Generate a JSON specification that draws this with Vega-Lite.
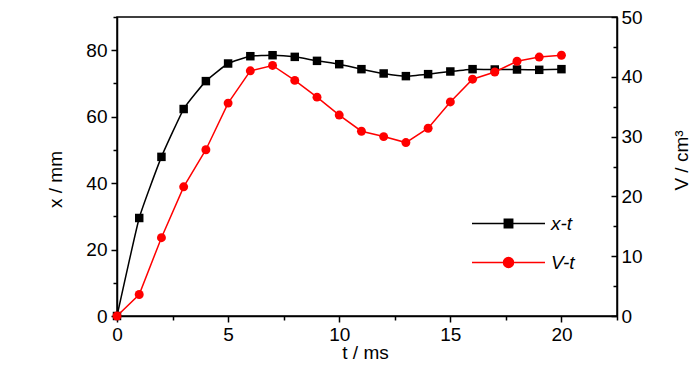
{
  "$schema": "https://vega.github.io/schema/vega-lite/v6.json",
  "width": 500,
  "height": 299,
  "autosize": {"type": "none"},
  "padding": {"left": 117, "top": 17, "right": 83, "bottom": 58},
  "background": "white",
  "config": {
    "view": {"stroke": "black", "strokeWidth": 1.5},
    "font": "Liberation Sans",
    "axis": {
      "grid": false,
      "domainColor": "black",
      "domainWidth": 1.5,
      "tickColor": "black",
      "tickWidth": 1.5,
      "labelFont": "Liberation Sans",
      "labelFontSize": 19,
      "labelColor": "black",
      "titleFont": "Liberation Sans",
      "titleFontSize": 19,
      "titleFontWeight": "normal",
      "titleColor": "black"
    }
  },
  "data": {
    "values": [
      {"t": 0, "x": 0, "V": 0},
      {"t": 1, "x": 29.5, "V": 3.6},
      {"t": 2, "x": 47.9, "V": 13.1},
      {"t": 3, "x": 62.3, "V": 21.6},
      {"t": 4, "x": 70.7, "V": 27.8},
      {"t": 5, "x": 76.0, "V": 35.6},
      {"t": 6, "x": 78.2, "V": 41.0},
      {"t": 7, "x": 78.5, "V": 41.9},
      {"t": 8, "x": 78.0, "V": 39.4},
      {"t": 9, "x": 76.8, "V": 36.6},
      {"t": 10, "x": 75.8, "V": 33.6},
      {"t": 11, "x": 74.3, "V": 30.9},
      {"t": 12, "x": 73.0, "V": 30.0},
      {"t": 13, "x": 72.2, "V": 29.0},
      {"t": 14, "x": 72.8, "V": 31.4},
      {"t": 15, "x": 73.6, "V": 35.8},
      {"t": 16, "x": 74.3, "V": 39.6},
      {"t": 17, "x": 74.2, "V": 40.8},
      {"t": 18, "x": 74.2, "V": 42.6},
      {"t": 19, "x": 74.1, "V": 43.3},
      {"t": 20, "x": 74.3, "V": 43.6}
    ]
  },
  "encoding": {
    "x": {
      "field": "t",
      "type": "quantitative",
      "scale": {"domain": [0, 22.5], "nice": false, "zero": false},
      "axis": {
        "title": "t / ms",
        "values": [0, 2.5, 5, 7.5, 10, 12.5, 15, 17.5, 20, 22.5],
        "labelExpr": "datum.value % 5 === 0 ? datum.label : ''",
        "tickSize": {"condition": {"test": "datum.value % 5 === 0", "value": 6}, "value": 4},
        "labelPadding": 3,
        "labelFlush": false,
        "titleX": 248,
        "titleY": 42,
        "titleAlign": "center",
        "titleBaseline": "alphabetic"
      }
    }
  },
  "layer": [
    {
      "encoding": {
        "y": {
          "field": "x",
          "type": "quantitative",
          "scale": {"domain": [0, 90], "nice": false},
          "axis": {
            "title": "x / mm",
            "orient": "left",
            "values": [0, 10, 20, 30, 40, 50, 60, 70, 80, 90],
            "labelExpr": "datum.value % 20 === 0 ? datum.label : ''",
            "tickSize": {"condition": {"test": "datum.value % 20 === 0", "value": 6}, "value": 4},
            "labelPadding": 4,
            "labelFlush": false,
            "titleAngle": -90,
            "titleX": -56,
            "titleY": 162,
            "titleAlign": "center",
            "titleBaseline": "alphabetic"
          }
        }
      },
      "layer": [
        {
          "mark": {"type": "line", "interpolate": "cardinal", "tension": 0.6, "strokeWidth": 1.5},
          "encoding": {
            "stroke": {
              "datum": "x-t",
              "type": "nominal",
              "scale": {"domain": ["x-t"], "range": ["black"]},
              "legend": {
                "title": null,
                "orient": "none",
                "legendX": 354,
                "legendY": 169,
                "padding": 0,
                "symbolOffset": 0,
                "symbolType": "M-1,0H1M-0.115,-0.115H0.115V0.115H-0.115Z",
                "symbolSize": 5329,
                "symbolStrokeWidth": 1.5,
                "symbolFillColor": "black",
                "symbolStrokeColor": "black",
                "labelFont": "Liberation Sans",
                "labelFontSize": 19,
                "labelFontStyle": "italic",
                "labelColor": "black",
                "labelOffset": 5,
                "encode": {"symbols": {"update": {"fill": {"value": "black"}, "stroke": {"value": "black"}, "opacity": {"value": 1}}}}
              }
            }
          }
        },
        {
          "mark": {"type": "point", "shape": "square", "filled": true, "color": "black", "size": 72, "opacity": 1}
        }
      ]
    },
    {
      "encoding": {
        "y": {
          "field": "V",
          "type": "quantitative",
          "scale": {"domain": [0, 50], "nice": false},
          "axis": {
            "title": "V / cm³",
            "orient": "right",
            "values": [0, 5, 10, 15, 20, 25, 30, 35, 40, 45, 50],
            "labelExpr": "datum.value % 10 === 0 ? datum.label : ''",
            "tickSize": {"condition": {"test": "datum.value % 10 === 0", "value": -6}, "value": -4},
            "labelPadding": 10,
            "labelFlush": false,
            "titleAngle": -90,
            "titleX": 70,
            "titleY": 143,
            "titleAlign": "center",
            "titleBaseline": "alphabetic"
          }
        }
      },
      "layer": [
        {
          "mark": {"type": "line", "color": "red", "strokeWidth": 1.5}
        },
        {
          "mark": {"type": "point", "shape": "circle", "filled": true, "size": 80, "opacity": 1},
          "encoding": {
            "fill": {
              "datum": "V-t",
              "type": "nominal",
              "scale": {"domain": ["V-t"], "range": ["red"]},
              "legend": {
                "title": null,
                "orient": "none",
                "legendX": 354,
                "legendY": 208,
                "padding": 0,
                "symbolOffset": 0,
                "symbolType": "M-1,0H1M-0.137,0A0.137,0.137,0,1,1,0.137,0A0.137,0.137,0,1,1,-0.137,0Z",
                "symbolSize": 5329,
                "symbolStrokeWidth": 1.5,
                "symbolFillColor": "red",
                "symbolStrokeColor": "red",
                "labelFont": "Liberation Sans",
                "labelFontSize": 19,
                "labelFontStyle": "italic",
                "labelColor": "black",
                "labelOffset": 5,
                "encode": {"symbols": {"update": {"fill": {"value": "red"}, "stroke": {"value": "red"}, "opacity": {"value": 1}}}}
              }
            }
          }
        }
      ]
    }
  ],
  "resolve": {"scale": {"y": "independent"}}
}
